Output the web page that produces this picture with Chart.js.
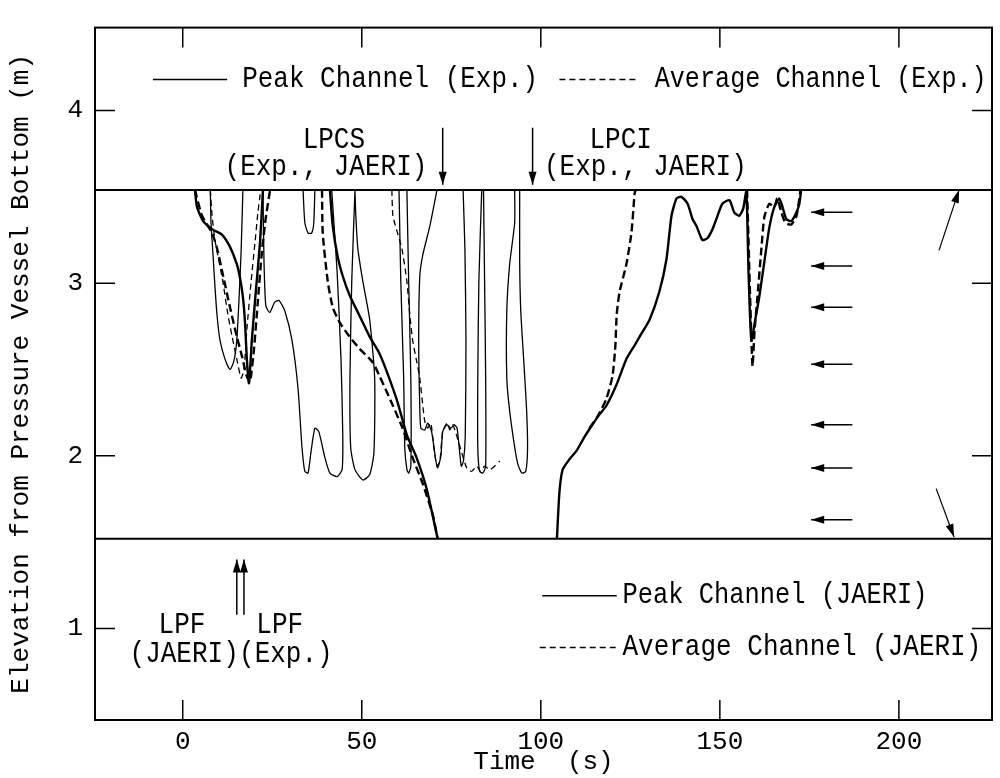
<!DOCTYPE html>
<html>
<head>
<meta charset="utf-8">
<script src="https://cdn.jsdelivr.net/npm/chart.js@4.4.0/dist/chart.umd.min.js"></script>
<style>
  html, body { margin: 0; padding: 0; background: #fff; }
  #wrap { width: 1000px; height: 778px; }
</style>
</head>
<body>
<div id="wrap"><canvas id="chart" width="1000" height="778"></canvas></div>
<script>
// axes
const xMin = -24.5, xMax = 226;
const yMin = 0.47, yMax = 4.48;
const xTicks = [0, 50, 100, 150, 200];
const yTicks = [1, 2, 3, 4];
// core top / bottom levels (m)
const bandLevels = [3.54, 1.52];

// Peak Channel (Exp.)  -- null splits the traces
const peakExpT = [7.7, 7.9, 8.5, 9.0, 9.6, 10.4, 11.8, 13.2, 14.3, 15.1, 15.7, 16.3, 16.8, null,
  22.4, 22.7, 23.2, 24.3, 25.7, 26.9, 28.5, 30.5, 32.2, 33.3, 34.1, 35.0, 35.8, 36.9, 38.0, 39.7, 41.1, 43.1, 44.5, 44.7, 44.2, 43.1, 41.6, null,
  33.6, 34.1, 35.0, 36.0, 36.6, 36.9, null,
  48.1, 47.2, 46.7, 46.9, 48.1, 50.3, 52.2, 53.4, 53.6, 52.2, 50.3, 48.9, 48.3, 48.1, null,
  60.4, 60.9, 61.7, 62.0, 62.6, 63.1, 63.7, 63.7, 63.1, 62.6, null,
  71.0, 69.0, 67.0, 66.2, 65.9, 66.2, 66.5, 67.6, 68.4, 69.5, 70.7, 71.2, 72.1, 72.6, 73.8, 74.9, 75.8, 76.6, 77.2, 77.8, 78.4, 78.9, 79.1, 78.8, 78.3, null,
  83.5, 82.7, 82.4, 82.4, 82.9, 83.8, 84.6, 84.6, 84.3, 84.0, null,
  92.7, 92.7, 91.3, 90.5, 90.5, 91.3, 92.7, 93.6, 94.7, 95.8, 96.3, 96.0, 95.2, 94.4, 94.1, 94.1];
const peakExpZ = [3.54, 3.35, 3.15, 2.98, 2.81, 2.67, 2.56, 2.50, 2.55, 2.67, 2.90, 3.18, 3.54, null,
  3.54, 3.12, 2.87, 2.83, 2.89, 2.90, 2.84, 2.67, 2.39, 2.05, 1.91, 1.90, 2.02, 2.16, 2.14, 1.99, 1.90, 1.88, 1.92, 2.11, 2.56, 3.07, 3.54, null,
  3.54, 3.35, 3.29, 3.29, 3.35, 3.54, null,
  3.54, 3.01, 2.45, 2.05, 1.92, 1.86, 1.89, 2.02, 2.45, 2.79, 3.01, 3.20, 3.41, 3.54, null,
  3.54, 3.01, 2.45, 2.05, 1.92, 1.90, 1.94, 2.45, 3.01, 3.54, null,
  3.54, 3.33, 3.16, 3.04, 2.67, 2.28, 2.16, 2.15, 2.19, 2.14, 1.97, 1.93, 2.00, 2.14, 2.18, 2.16, 2.18, 2.16, 2.05, 1.94, 1.97, 2.11, 2.67, 3.20, 3.54, null,
  3.54, 3.01, 2.45, 2.05, 1.91, 1.90, 1.94, 2.45, 3.01, 3.54, null,
  3.54, 3.35, 3.11, 2.84, 2.45, 2.26, 2.05, 1.95, 1.90, 1.91, 2.05, 2.28, 2.56, 2.84, 3.12, 3.54];

// Average Channel (Exp.)
const avgExpT = [7.7, 8.2, 9.0, 9.8, 11.2, 12.6, 13.8, 15.1, 16.3, 17.1, 17.9, 19.1, 20.2, 21.0, 21.8, null,
  58.4, 58.7, 60.0, 61.2, 62.6, 63.4, 64.2, 65.3, 66.2, 67.1, 67.6, 68.4, 69.3, 70.1, 71.0, 71.8, 72.6, 73.8, 74.6, 75.4, 76.6, 77.9, 79.3, 80.7, 82.1, 83.2, 84.3, 85.7, 87.1, 88.5];
const avgExpZ = [3.54, 3.39, 3.25, 3.16, 3.01, 2.82, 2.69, 2.56, 2.45, 2.50, 2.73, 3.01, 3.24, 3.41, 3.54, null,
  3.54, 3.39, 3.29, 3.20, 3.01, 2.82, 2.67, 2.55, 2.45, 2.28, 2.20, 2.16, 2.19, 2.05, 1.94, 1.97, 2.14, 2.19, 2.15, 2.18, 2.11, 2.02, 1.93, 1.91, 1.94, 1.91, 1.94, 1.92, 1.94, 1.97];

// Peak Channel (JAERI)
const peakJaeriT = [3.4, 4.0, 5.7, 8.4, 11.0, 13.2, 15.1, 16.0, 16.8, 17.4, 17.9, 18.5, 19.3, 20.4, 21.6, 22.4, null,
  41.1, 41.9, 43.3, 44.7, 46.6, 49.4, 52.2, 55.0, 57.3, 60.0, 62.6, 65.3, 68.1, 71.2, null,
  104.5, 105.2, 106.1, 108.0, 110.0, 112.2, 114.4, 116.4, 118.3, 121.1, 123.9, 126.2, 127.6, 130.4, 133.1, 135.1, 136.5, 137.9, 139.3, 141.0, 142.4, 143.5, 145.1, 146.5, 147.9, 149.0, 150.7, 152.7, 154.0, 155.4, 156.5, 157.4, 158.0, 158.8, 159.9, 161.0, 162.4, 163.8, 165.2, 166.6, 167.5, 168.6, 170.0, 171.4, 172.2, 172.7];
const peakJaeriZ = [3.54, 3.44, 3.36, 3.31, 3.28, 3.21, 3.11, 3.03, 2.92, 2.77, 2.56, 2.42, 2.67, 2.95, 3.24, 3.54, null,
  3.54, 3.33, 3.15, 3.04, 2.93, 2.81, 2.69, 2.59, 2.47, 2.31, 2.12, 1.99, 1.81, 1.52, null,
  1.52, 1.79, 1.92, 1.98, 2.03, 2.11, 2.18, 2.24, 2.29, 2.41, 2.56, 2.64, 2.69, 2.79, 2.95, 3.14, 3.39, 3.49, 3.50, 3.46, 3.37, 3.33, 3.25, 3.26, 3.31, 3.37, 3.46, 3.48, 3.41, 3.39, 3.43, 3.53, 3.07, 2.67, 2.79, 2.92, 3.12, 3.32, 3.44, 3.49, 3.44, 3.37, 3.36, 3.41, 3.46, 3.54];

// Average Channel (JAERI)
const avgJaeriT = [3.4, 5.4, 8.2, 9.6, 11.2, 13.2, 15.1, 16.5, 17.9, 18.8, 19.9, 21.0, 22.1, 23.2, 24.4, null,
  38.9, 39.1, 40.5, 41.9, 43.9, 46.6, 49.4, 53.1, 55.0, 57.0, 58.7, 61.4, 64.2, 67.0, 69.8, 71.2, null,
  113.6, 115.9, 118.3, 120.0, 120.8, 121.2, 122.0, 123.9, 125.3, 126.2, 126.5, null,
  157.6, 159.1, 159.7, 160.5, 161.6, 162.4, 163.8, 165.2, 166.0, 167.2, 168.3, 170.0, 171.4, 172.2, 172.5];
const avgJaeriZ = [3.54, 3.39, 3.29, 3.20, 3.05, 2.86, 2.69, 2.58, 2.46, 2.43, 2.62, 2.90, 3.18, 3.38, 3.54, null,
  3.54, 3.29, 3.01, 2.86, 2.77, 2.69, 2.62, 2.54, 2.46, 2.37, 2.29, 2.16, 1.99, 1.84, 1.66, 1.52, null,
  2.16, 2.23, 2.33, 2.46, 2.63, 2.82, 2.95, 3.11, 3.29, 3.52, 3.54, null,
  3.54, 2.52, 2.73, 2.92, 3.20, 3.38, 3.46, 3.44, 3.49, 3.41, 3.35, 3.34, 3.39, 3.49, 3.54];

// inflow arrows on the right (elevations), and their time span
const inflowZ = [3.41, 3.10, 2.86, 2.53, 2.18, 1.93, 1.63];
const inflowT = [187, 175.5];

const FONT = "'Liberation Mono', 'DejaVu Sans Mono', monospace";
Chart.defaults.font.family = FONT;
Chart.defaults.font.size = 26;
Chart.defaults.color = '#000';

function pts(ts, zs) {
  return ts.map((t, i) => ({ x: t, y: zs[i] }));
}

function series(ts, zs, width, dash) {
  return {
    data: pts(ts, zs),
    borderColor: '#000',
    borderWidth: width,
    borderDash: dash,
    pointRadius: 0,
    tension: 0.2,
    spanGaps: false,
    fill: false
  };
}

const datasets = [
  series(peakExpT, peakExpZ, 1.3, []),
  series(avgExpT, avgExpZ, 1.3, [6, 4]),
  series(peakJaeriT, peakJaeriZ, 2.4, []),
  series(avgJaeriT, avgJaeriZ, 2.4, [8, 4])
];
bandLevels.forEach(z => {
  datasets.push(series([xMin, xMax], [z, z], 2, []));
});

function arrow(ctx, x0, y0, x1, y1) {
  const ang = Math.atan2(y1 - y0, x1 - x0);
  ctx.beginPath();
  ctx.moveTo(x0, y0);
  ctx.lineTo(x1, y1);
  ctx.stroke();
  const L = 13, W = 4;
  ctx.beginPath();
  ctx.moveTo(x1, y1);
  ctx.lineTo(x1 - L * Math.cos(ang) + W * Math.sin(ang), y1 - L * Math.sin(ang) - W * Math.cos(ang));
  ctx.lineTo(x1 - L * Math.cos(ang) - W * Math.sin(ang), y1 - L * Math.sin(ang) + W * Math.cos(ang));
  ctx.closePath();
  ctx.fill();
}

// text a little taller than the font, like the typewriter lettering
function label(ctx, str, x, y, align, maxW) {
  ctx.save();
  ctx.translate(x, y);
  ctx.scale(1, 1.12);
  ctx.textAlign = align;
  if (maxW) ctx.fillText(str, 0, 0, maxW); else ctx.fillText(str, 0, 0);
  ctx.restore();
}

const decor = {
  id: 'decor',
  afterDatasetsDraw(chart) {
    const { ctx, chartArea: a, scales: { x, y } } = chart;
    const px = v => x.getPixelForValue(v);
    const py = v => y.getPixelForValue(v);
    ctx.save();
    ctx.strokeStyle = '#000';
    ctx.fillStyle = '#000';
    // frame
    ctx.lineWidth = 2;
    ctx.strokeRect(a.left, a.top, a.right - a.left, a.bottom - a.top);
    // inward ticks
    ctx.lineWidth = 1.5;
    x.ticks.forEach(tk => {
      const xx = px(tk.value);
      ctx.beginPath();
      ctx.moveTo(xx, a.bottom); ctx.lineTo(xx, a.bottom - 20);
      ctx.moveTo(xx, a.top); ctx.lineTo(xx, a.top + 20);
      ctx.stroke();
    });
    y.ticks.forEach(tk => {
      const yy = py(tk.value);
      ctx.beginPath();
      ctx.moveTo(a.left, yy); ctx.lineTo(a.left + 20, yy);
      ctx.moveTo(a.right, yy); ctx.lineTo(a.right - 20, yy);
      ctx.stroke();
    });

    // legends
    ctx.lineWidth = 1.5;
    ctx.beginPath(); ctx.moveTo(px(-8.3), py(4.18)); ctx.lineTo(px(12.4), py(4.18)); ctx.stroke();
    ctx.beginPath(); ctx.moveTo(px(100.4), py(1.19)); ctx.lineTo(px(121.2), py(1.19)); ctx.stroke();
    ctx.setLineDash([6, 4]);
    ctx.beginPath(); ctx.moveTo(px(105.2), py(4.18)); ctx.lineTo(px(126.7), py(4.18)); ctx.stroke();
    ctx.beginPath(); ctx.moveTo(px(99.7), py(0.89)); ctx.lineTo(px(121.5), py(0.89)); ctx.stroke();
    ctx.setLineDash([]);

    ctx.font = '26px ' + FONT;
    ctx.textBaseline = 'middle';
    label(ctx, 'Peak Channel (Exp.)', px(16.6), py(4.18), 'left', 296);
    label(ctx, 'Average Channel (Exp.)', px(131.8), py(4.18), 'left', 332);
    label(ctx, 'Peak Channel (JAERI)', px(122.8), py(1.19), 'left', 305);
    label(ctx, 'Average Channel (JAERI)', px(122.8), py(0.89), 'left');
    label(ctx, 'LPCS', px(42.2), py(3.83), 'center');
    label(ctx, '(Exp., JAERI)', px(40.0), py(3.67), 'center');
    label(ctx, 'LPCI', px(122.3), py(3.83), 'center');
    label(ctx, '(Exp., JAERI)', px(129.2), py(3.67), 'center');
    label(ctx, 'LPF', px(-0.2), py(1.02), 'center');
    label(ctx, '(JAERI)', px(0.4), py(0.85), 'center');
    label(ctx, 'LPF', px(27.1), py(1.02), 'center');
    label(ctx, '(Exp.)', px(28.8), py(0.85), 'center');

    // event arrows
    ctx.lineWidth = 1.5;
    arrow(ctx, px(72.6), py(3.90), px(72.6), py(3.57));
    arrow(ctx, px(97.7), py(3.90), px(97.7), py(3.57));
    arrow(ctx, px(15.1), py(1.08), px(15.1), py(1.40));
    arrow(ctx, px(17.1), py(1.08), px(17.1), py(1.40));
    inflowZ.forEach(z => arrow(ctx, px(inflowT[0]), py(z), px(inflowT[1]), py(z)));
    ctx.lineWidth = 1.2;
    arrow(ctx, px(211.2), py(3.19), px(216.8), py(3.54));
    arrow(ctx, px(210.4), py(1.81), px(215.4), py(1.53));
    ctx.restore();
  }
};

new Chart(document.getElementById('chart').getContext('2d'), {
  type: 'line',
  data: { datasets: datasets },
  options: {
    responsive: false,
    animation: false,
    layout: { padding: { top: 10, right: 8, left: 0, bottom: 0 } },
    plugins: { legend: { display: false }, tooltip: { enabled: false } },
    scales: {
      x: {
        type: 'linear',
        min: xMin, max: xMax,
        afterBuildTicks: s => { s.ticks = xTicks.map(v => ({ value: v })); },
        afterFit: s => { s.height = 58; },
        grid: { display: false, drawTicks: false },
        border: { display: false },
        ticks: { padding: 7, maxRotation: 0 },
        title: { display: true, text: 'Time  (s)', padding: { top: 4, bottom: 0 } }
      },
      y: {
        type: 'linear',
        min: yMin, max: yMax,
        afterBuildTicks: s => { s.ticks = yTicks.map(v => ({ value: v })); },
        afterFit: s => { s.width = 95; },
        grid: { display: false, drawTicks: false },
        border: { display: false },
        ticks: { padding: 12 },
        title: { display: true, text: 'Elevation from Pressure Vessel Bottom (m)', padding: { top: 6, bottom: 0 } }
      }
    }
  },
  plugins: [decor]
});
</script>
</body>
</html>
